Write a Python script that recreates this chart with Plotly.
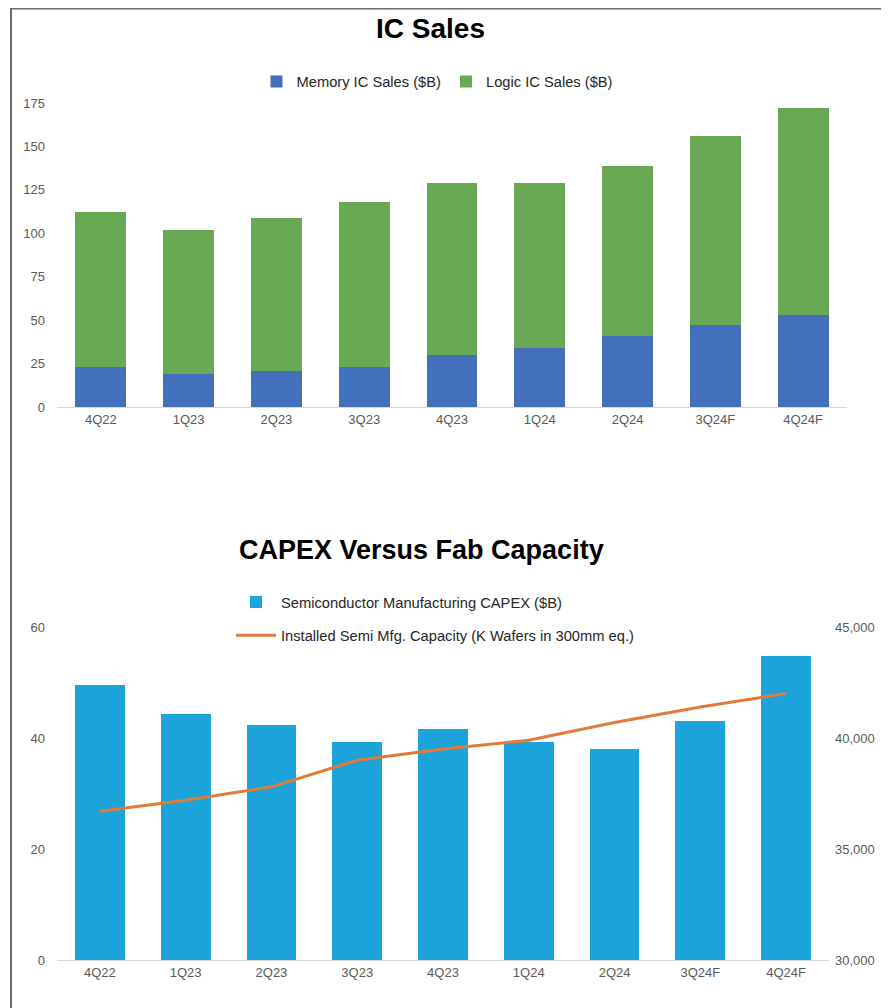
import plotly.graph_objects as go

# data
quarters = ['4Q22', '1Q23', '2Q23', '3Q23', '4Q23', '1Q24', '2Q24', '3Q24F', '4Q24F']
memory_sales = [23, 19, 21, 23, 30, 34, 41, 47, 53]
logic_sales = [89, 83, 88, 95, 99, 95, 98, 109, 119]
capex = [49.5, 44.4, 42.3, 39.3, 41.7, 39.3, 38.0, 43.1, 54.7]
capacity = [36700, 37200, 37800, 39000, 39500, 39900, 40700, 41400, 42000]

# the page body has an 8px margin, so the figure is drawn 8px in from the corner
OFF = 8
W, H = 889 - OFF, 1008 - OFF
def px(x):
    return (x - OFF) / W
def py(y):
    return 1 - (y - OFF) / H

FONT = 'Liberation Sans, Arial, sans-serif'
TICK = dict(family=FONT, size=13, color='#595959')
LEG = dict(family=FONT, size=14.7, color='#262626')

fig = go.Figure()

#### top chart: IC sales ####
fig.add_trace(go.Bar(x=quarters, y=memory_sales, name='Memory IC Sales ($B)',
                     marker=dict(color='#4270bd', line=dict(width=0)),
                     xaxis='x', yaxis='y', legend='legend'))
fig.add_trace(go.Bar(x=quarters, y=logic_sales, name='Logic IC Sales ($B)',
                     marker=dict(color='#6aa954', line=dict(width=0)),
                     xaxis='x', yaxis='y', legend='legend'))

#### bottom chart: CAPEX vs capacity ####
fig.add_trace(go.Bar(x=quarters, y=capex, name='Semiconductor Manufacturing CAPEX ($B)',
                     marker=dict(color='#1ba3da', line=dict(width=0)),
                     xaxis='x2', yaxis='y2', legend='legend2', legendgroup='a'))
fig.add_trace(go.Scatter(x=quarters, y=capacity, mode='lines',
                         name='Installed Semi Mfg. Capacity (K Wafers in 300mm eq.)',
                         line=dict(color='#e07b39', width=3),
                         xaxis='x2', yaxis='y3', legend='legend2', legendgroup='b'))

fig.update_layout(
    template='none',
    width=W, height=H,
    margin=dict(l=0, r=0, t=0, b=0, autoexpand=False),
    paper_bgcolor='white', plot_bgcolor='white',
    barmode='stack', bargap=0.42,
    font=dict(family=FONT, size=13, color='#262626'),
    xaxis=dict(domain=[px(57), px(847)], anchor='y', range=[-0.5, 8.5], automargin=False,
               showline=True, linecolor='#d9d9d9', linewidth=1, ticks='',
               tickfont=TICK, showgrid=False, zeroline=False),
    yaxis=dict(domain=[py(407), py(103)], anchor='x', range=[0, 175], automargin=False,
               tickvals=[0, 25, 50, 75, 100, 125, 150, 175], ticks='',
               showgrid=False, zeroline=False, tickfont=TICK, ticklabelstandoff=11),
    xaxis2=dict(domain=[px(57), px(829)], anchor='y2', range=[-0.5, 8.5], automargin=False,
                showline=True, linecolor='#d9d9d9', linewidth=1, ticks='',
                tickfont=TICK, showgrid=False, zeroline=False),
    yaxis2=dict(domain=[py(960), py(627)], anchor='x2', range=[0, 60], automargin=False,
                tickvals=[0, 20, 40, 60], showgrid=False, zeroline=False, ticks='',
                tickfont=TICK, ticklabelstandoff=11),
    yaxis3=dict(overlaying='y2', side='right', anchor='x2', range=[30000, 45000],
                tickvals=[30000, 35000, 40000, 45000], tickformat=',', automargin=False,
                showgrid=False, zeroline=False, ticks='', tickfont=TICK, ticklabelstandoff=5),
    legend=dict(orientation='h', x=px(437), xanchor='center', y=py(82), yanchor='middle',
                font=LEG, bgcolor='rgba(0,0,0,0)', itemwidth=30, traceorder='normal'),
    legend2=dict(orientation='v', x=px(231), xanchor='left', y=py(619), yanchor='middle',
                 font=LEG, bgcolor='rgba(0,0,0,0)', tracegroupgap=11, itemwidth=40,
                 traceorder='grouped'),
    showlegend=True,
)

# chart titles
fig.add_annotation(text='<b>IC Sales</b>', x=px(430), y=py(28), xref='paper', yref='paper',
                   yanchor='middle', showarrow=False,
                   font=dict(family=FONT, size=28, color='black'))
fig.add_annotation(text='<b>CAPEX Versus Fab Capacity</b>', x=px(421), y=py(550),
                   xref='paper', yref='paper', yanchor='middle', showarrow=False,
                   font=dict(family=FONT, size=27, color='black'))

# frame lines at top and left
fig.add_shape(type='line', xref='paper', yref='paper', x0=px(11), x1=1, y0=1, y1=1,
              line=dict(color='#6b6b6b', width=3))
fig.add_shape(type='line', xref='paper', yref='paper', x0=px(11), x1=px(11), y0=0, y1=1,
              line=dict(color='#6b6b6b', width=2))

fig.write_html('out.html')
